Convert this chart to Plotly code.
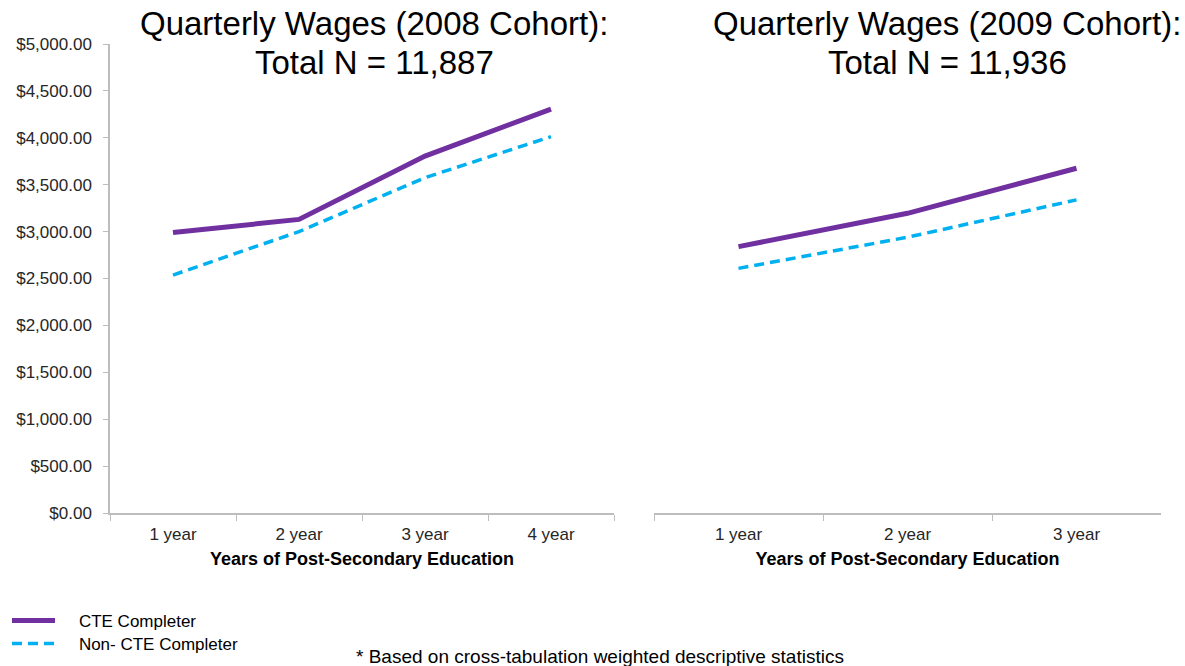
import plotly.graph_objects as go

# Quarterly wage data by years of post-secondary education
years_2008 = ["1 year", "2 year", "3 year", "4 year"]
cte_2008 = [2990, 3130, 3805, 4305]
non_cte_2008 = [2537, 3000, 3575, 4012]

years_2009 = ["1 year", "2 year", "3 year"]
cte_2009 = [2840, 3195, 3675]
non_cte_2009 = [2608, 2940, 3338]

title_2008 = ["Quarterly Wages (2008 Cohort):", "Total N = 11,887"]
title_2009 = ["Quarterly Wages (2009 Cohort):", "Total N = 11,936"]
x_title = "Years of Post-Secondary Education"
footnote = "* Based on cross-tabulation weighted descriptive statistics"
series_names = ["CTE Completer", "Non- CTE Completer"]

PURPLE = "#7030A0"
CYAN = "#00B0F0"
AXIS_GRAY = "#BDBDBD"
FONT = "Liberation Sans, Arial, sans-serif"
W, H = 1185, 666
PAD = "\u00a0" * 4  # gap between legend sample and label

fig = go.Figure()

# 2008 cohort (left panel)
fig.add_trace(go.Scatter(x=years_2008, y=cte_2008, mode="lines", name=PAD + series_names[0],
                         line=dict(color=PURPLE, width=5), xaxis="x", yaxis="y",
                         legend="legend"))
fig.add_trace(go.Scatter(x=years_2008, y=non_cte_2008, mode="lines", name=PAD + series_names[1],
                         line=dict(color=CYAN, width=3.5, dash="10px,6px"), xaxis="x", yaxis="y",
                         legend="legend2"))
# 2009 cohort (right panel)
fig.add_trace(go.Scatter(x=years_2009, y=cte_2009, mode="lines", name=series_names[0],
                         line=dict(color=PURPLE, width=5), xaxis="x2", yaxis="y2",
                         showlegend=False))
fig.add_trace(go.Scatter(x=years_2009, y=non_cte_2009, mode="lines", name=series_names[1],
                         line=dict(color=CYAN, width=3.5, dash="10px,6px"), xaxis="x2", yaxis="y2",
                         showlegend=False))

y_dom = [(H - 513) / H, (H - 44) / H]
common_x = dict(type="category", showline=True, linecolor=AXIS_GRAY, linewidth=1.5,
                ticks="outside", tickson="boundaries", ticklen=6, tickcolor=AXIS_GRAY,
                showgrid=False, zeroline=False, fixedrange=True, automargin=False,
                ticklabelstandoff=5,
                tickfont=dict(family=FONT, size=17, color="#262626"),
                title=dict(text=f"<b>{x_title}</b>", font=dict(family=FONT, size=18, color="#000"),
                           standoff=9))

legend_common = dict(xanchor="left", yanchor="top", itemwidth=43,
                     font=dict(family=FONT, size=17, color="#000"),
                     bgcolor="rgba(0,0,0,0)", borderwidth=0)

fig.update_layout(
    width=W, height=H,
    margin=dict(l=0, r=0, t=0, b=0, autoexpand=False),
    paper_bgcolor="white", plot_bgcolor="white",
    font=dict(family=FONT, color="#000"),
    xaxis=dict(common_x, domain=[110 / W, 614 / W], range=[-0.5, 3.5], anchor="y"),
    yaxis=dict(domain=y_dom, range=[0, 5000], dtick=500, tickformat="$,.2f",
               showline=True, linecolor=AXIS_GRAY, linewidth=1.5, ticks="outside",
               ticklen=5, tickcolor=AXIS_GRAY, showgrid=False, zeroline=False,
               automargin=False, ticklabelstandoff=8,
               tickfont=dict(family=FONT, size=17, color="#262626"), anchor="x",
               fixedrange=True),
    xaxis2=dict(common_x, domain=[654 / W, 1161 / W], range=[-0.5, 2.5], anchor="y2"),
    yaxis2=dict(domain=y_dom, range=[0, 5000], showline=False, showticklabels=False,
                ticks="", showgrid=False, zeroline=False, anchor="x2", fixedrange=True,
                automargin=False),
    legend=dict(legend_common, x=7 / W, y=(H - 603) / H),
    legend2=dict(legend_common, x=7 / W, y=(H - 626) / H),
    showlegend=True,
)

annotations = []
for lines, cx in ((title_2008, 374), (title_2009, 947)):
    for text, cy in zip(lines, (24, 62)):
        annotations.append(dict(text=text, x=cx / W, y=(H - cy) / H, xref="paper", yref="paper",
                                xanchor="center", yanchor="middle", showarrow=False,
                                font=dict(family=FONT, size=33, color="#000")))
annotations.append(dict(text=footnote, x=600 / W, y=(H - 656) / H, xref="paper", yref="paper",
                        xanchor="center", yanchor="middle", showarrow=False,
                        font=dict(family=FONT, size=19, color="#000")))
fig.update_layout(annotations=annotations)

fig.write_html("out.html")
